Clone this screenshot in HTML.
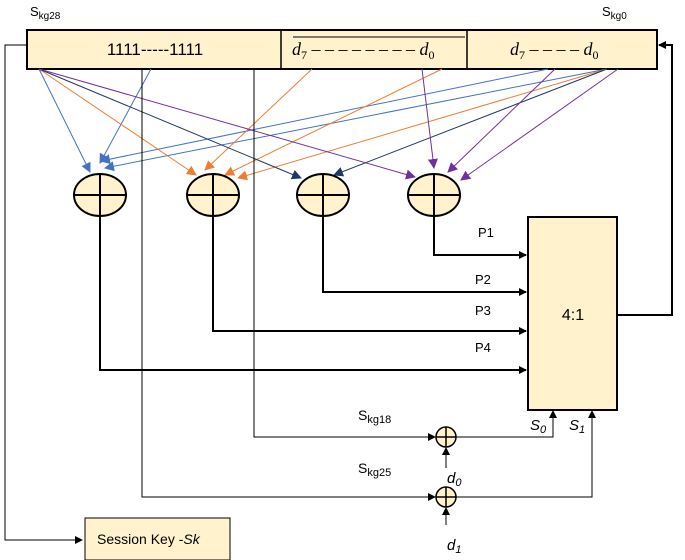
<!DOCTYPE html>
<html><head><meta charset="utf-8"><style>body{margin:0;background:#fff}svg{display:block}</style></head><body>
<svg width="685" height="560" viewBox="0 0 685 560" xmlns="http://www.w3.org/2000/svg" font-family="Liberation Sans, sans-serif">
<defs>
<marker id="ab" markerWidth="8" markerHeight="8" refX="7" refY="4" orient="auto" markerUnits="userSpaceOnUse"><path d="M0,0 L8,4 L0,8 z" fill="#000"/></marker>
<marker id="mb" markerWidth="10" markerHeight="10" refX="9" refY="5" orient="auto" markerUnits="userSpaceOnUse"><path d="M0,0 L10,5 L0,10 z" fill="#4472c4"/></marker>
<marker id="mo" markerWidth="10" markerHeight="10" refX="9" refY="5" orient="auto" markerUnits="userSpaceOnUse"><path d="M0,0 L10,5 L0,10 z" fill="#ed7d31"/></marker>
<marker id="mn" markerWidth="10" markerHeight="10" refX="9" refY="5" orient="auto" markerUnits="userSpaceOnUse"><path d="M0,0 L10,5 L0,10 z" fill="#1f3864"/></marker>
<marker id="mp" markerWidth="10" markerHeight="10" refX="9" refY="5" orient="auto" markerUnits="userSpaceOnUse"><path d="M0,0 L10,5 L0,10 z" fill="#7030a0"/></marker>
</defs>
<rect x="27" y="30" width="630" height="39" fill="#fff2cc" stroke="#000" stroke-width="2"/>
<line x1="281" y1="30" x2="281" y2="69" stroke="#000" stroke-width="1.5"/>
<line x1="467" y1="30" x2="467" y2="69" stroke="#000" stroke-width="1.5"/>
<text x="155" y="55" font-size="17" text-anchor="middle">1111-----1111</text>
<line x1="293" y1="37" x2="465" y2="37" stroke="#000" stroke-width="1"/>
<text x="292" y="55" font-size="18" font-family="Liberation Serif, serif" font-style="italic">d<tspan font-size="12" dy="4" font-style="normal">7</tspan><tspan dy="-4" font-style="normal"> – – – – – – – – </tspan>d<tspan font-size="12" dy="4" font-style="normal">0</tspan></text>
<text x="510" y="55" font-size="18" font-family="Liberation Serif, serif" font-style="italic">d<tspan font-size="12" dy="4" font-style="normal">7</tspan><tspan dy="-4" font-style="normal"> – – – – </tspan>d<tspan font-size="12" dy="4" font-style="normal">0</tspan></text>
<text x="30" y="16" font-size="13">S<tspan font-size="10" dy="3">kg28</tspan></text>
<text x="602" y="16" font-size="13">S<tspan font-size="10" dy="3">kg0</tspan></text>
<g fill="none" stroke-width="1">
<g stroke="#4472c4">
<line x1="39" y1="69" x2="90" y2="172" marker-end="url(#mb)"/>
<line x1="151" y1="69" x2="100" y2="163" marker-end="url(#mb)"/>
<line x1="548" y1="69" x2="101" y2="161" marker-end="url(#mb)"/>
<line x1="607" y1="69" x2="105" y2="168" marker-end="url(#mb)"/>
</g>
<g stroke="#ed7d31">
<line x1="39" y1="69" x2="196" y2="175" marker-end="url(#mo)"/>
<line x1="312" y1="69" x2="205" y2="170" marker-end="url(#mo)"/>
<line x1="442" y1="69" x2="225" y2="175" marker-end="url(#mo)"/>
<line x1="607" y1="69" x2="238" y2="178" marker-end="url(#mo)"/>
</g>
<g stroke="#1f3864">
<line x1="39" y1="69" x2="301" y2="178" marker-end="url(#mn)"/>
<line x1="607" y1="69" x2="334" y2="175" marker-end="url(#mn)"/>
</g>
<g stroke="#7030a0">
<line x1="39" y1="69" x2="415" y2="177" marker-end="url(#mp)"/>
<line x1="422" y1="69" x2="434" y2="168" marker-end="url(#mp)"/>
<line x1="555" y1="69" x2="448" y2="172" marker-end="url(#mp)"/>
<line x1="618" y1="69" x2="461" y2="180" marker-end="url(#mp)"/>
</g>
</g>
<polyline points="142,69 142,497 435,497" fill="none" stroke="#000" stroke-width="1" marker-end="url(#ab)"/>
<polyline points="254,69 254,437 435,437" fill="none" stroke="#000" stroke-width="1" marker-end="url(#ab)"/>
<g fill="#fff2cc" stroke="#000" stroke-width="2">
<ellipse cx="100" cy="195" rx="26" ry="21"/><ellipse cx="213" cy="195" rx="26" ry="21"/><ellipse cx="323" cy="195" rx="26" ry="21"/><ellipse cx="434" cy="195" rx="26" ry="21"/>
</g>
<g stroke="#000" stroke-width="2">
<line x1="74" y1="195" x2="126" y2="195"/><line x1="100" y1="174" x2="100" y2="216"/>
<line x1="187" y1="195" x2="239" y2="195"/><line x1="213" y1="174" x2="213" y2="216"/>
<line x1="297" y1="195" x2="349" y2="195"/><line x1="323" y1="174" x2="323" y2="216"/>
<line x1="408" y1="195" x2="460" y2="195"/><line x1="434" y1="174" x2="434" y2="216"/>
</g>
<g fill="none" stroke="#000" stroke-width="2">
<polyline points="434,216 434,255 526,255" marker-end="url(#ab)"/>
<polyline points="323,216 323,292 526,292" marker-end="url(#ab)"/>
<polyline points="213,216 213,331 526,331" marker-end="url(#ab)"/>
<polyline points="100,216 100,370 526,370" marker-end="url(#ab)"/>
<polyline points="617,315 672,315 672,45 659,45" marker-end="url(#ab)"/>
</g>
<polyline points="27,45 5,45 5,540 82,540" fill="none" stroke="#000" stroke-width="1" marker-end="url(#ab)"/>
<g font-size="13"><text x="478" y="237">P1</text><text x="475" y="284">P2</text><text x="475" y="315">P3</text><text x="475" y="352">P4</text></g>
<rect x="528" y="217" width="89" height="193" fill="#fff2cc" stroke="#000" stroke-width="2"/>
<text x="573" y="320" font-size="16" text-anchor="middle">4:1</text>
<g fill="#fff2cc" stroke="#000" stroke-width="1.5"><circle cx="446" cy="437" r="10"/><circle cx="446" cy="497" r="10"/></g>
<g stroke="#000" stroke-width="1.5"><line x1="436" y1="437" x2="456" y2="437"/><line x1="446" y1="427" x2="446" y2="447"/><line x1="436" y1="497" x2="456" y2="497"/><line x1="446" y1="487" x2="446" y2="507"/></g>
<g fill="none" stroke="#000" stroke-width="1">
<line x1="446" y1="468" x2="446" y2="448" marker-end="url(#ab)"/>
<line x1="446" y1="525" x2="446" y2="508" marker-end="url(#ab)"/>
<polyline points="456,437 553,437 553,411" marker-end="url(#ab)"/>
<polyline points="456,497 592,497 592,411" marker-end="url(#ab)"/>
</g>
<text x="358" y="420" font-size="14">S<tspan font-size="11" dy="3">kg18</tspan></text>
<text x="358" y="473" font-size="14">S<tspan font-size="11" dy="3">kg25</tspan></text>
<g font-size="15" font-style="italic">
<text x="530" y="430">S<tspan font-size="11" dy="3">0</tspan></text>
<text x="569" y="430">S<tspan font-size="11" dy="3">1</tspan></text>
<text x="447" y="483">d<tspan font-size="11" dy="3">0</tspan></text>
<text x="447" y="550">d<tspan font-size="11" dy="3">1</tspan></text>
</g>
<rect x="85" y="518" width="145" height="42" fill="#fff2cc" stroke="#000" stroke-width="1"/>
<text x="97" y="544" font-size="14">Session Key -<tspan font-style="italic">Sk</tspan></text>
</svg>
</body></html>
